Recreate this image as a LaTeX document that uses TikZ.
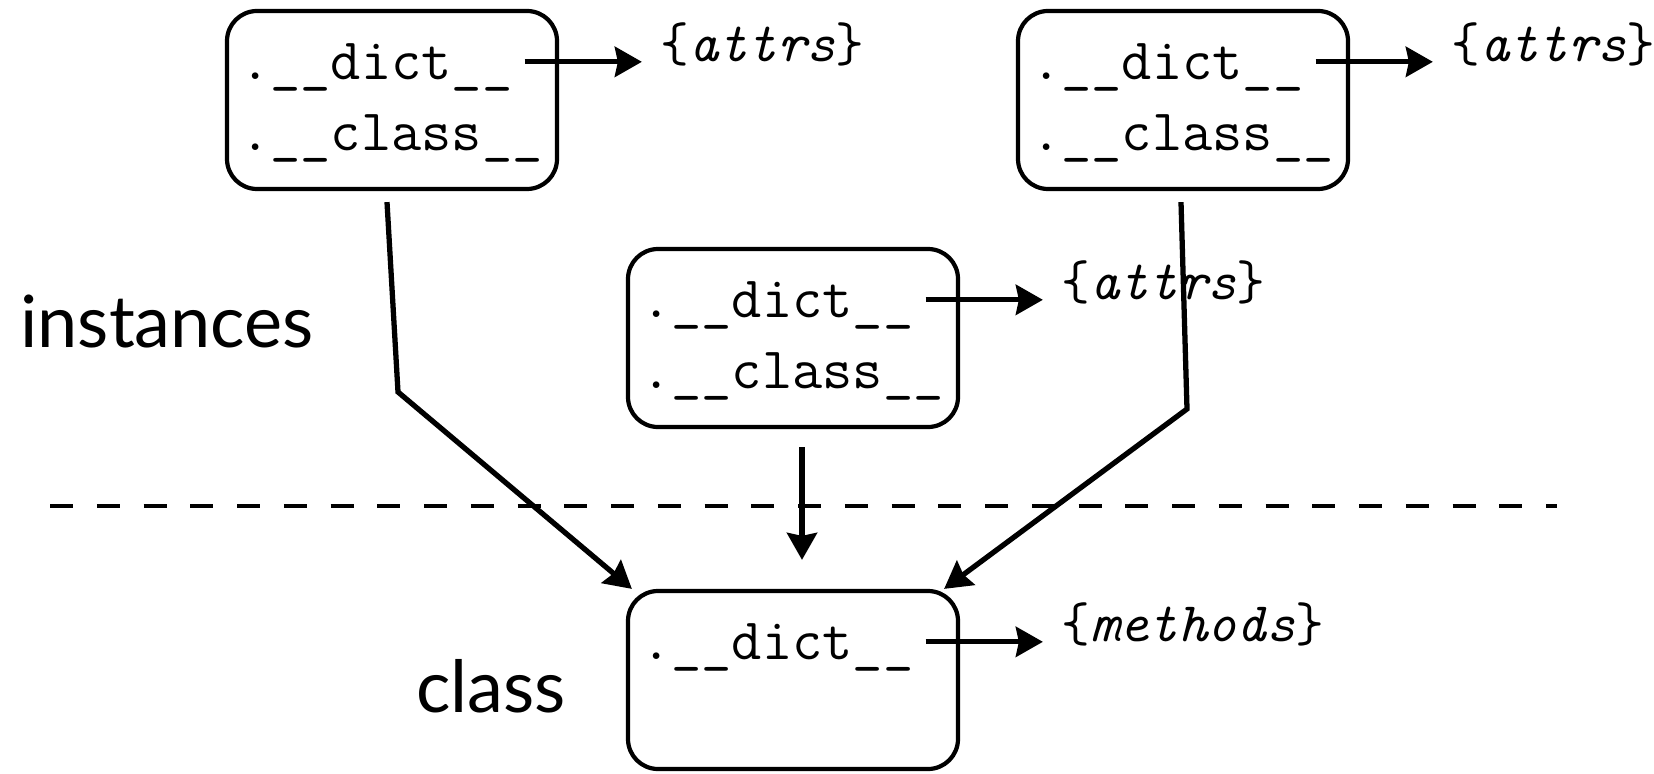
\documentclass[tikz,border=0pt]{standalone}
\usepackage{fontspec}
\newfontfamily\labelfont{Lato}
\usetikzlibrary{arrows.meta,calc,positioning}

\begin{document}
\begin{tikzpicture}[
            objbox/.style={
                draw=black,
                line width=2.4pt,
                rounded corners=0.6cm,
                minimum width=6.6cm,
                minimum height=3.56cm,
                inner sep=0pt
            },
            field/.style={
                inner sep=0pt,
                anchor=base west,
                font=\fontsize{33.4}{40}\selectfont\ttfamily
            },
            dictval/.style={
                field,
                font=\fontsize{31.8}{38}\selectfont\ttfamily
            },
            link/.style={
                line width=3pt,
                -{Stealth[length=0.54cm,width=0.6cm,inset=0.06cm]}
            },
            group/.style={
                inner sep=0pt,
                anchor=base west,
                font=\fontsize{41}{49}\selectfont\labelfont
            }
        ]

        \useasboundingbox (0,0) rectangle (33.08,15.46);

        % Objetos
        \node[objbox] (objA) at (7.84,13.46) {};
        \node[objbox] (objB) at (23.66,13.46) {};
        \node[objbox] (objC) at (15.86,8.70) {};
        \node[objbox] (cls)  at (15.86,1.86) {};

        % Campos
        \node[field]   (aDict)  at ([xshift=0.3cm,yshift=-1.42cm]objA.north west) {.\_\_dict\_\_};
        \node[field]   (aClass) at ([xshift=0.3cm,yshift=-2.84cm]objA.north west) {.\_\_class\_\_};
        \node[dictval] (aAttrs) at ([xshift=8.7cm,yshift=-1.06cm]objA.north west) {\{\textit{attrs}\}};

        \node[field]   (bDict)  at ([xshift=0.3cm,yshift=-1.42cm]objB.north west) {.\_\_dict\_\_};
        \node[field]   (bClass) at ([xshift=0.3cm,yshift=-2.84cm]objB.north west) {.\_\_class\_\_};
        \node[dictval] (bAttrs) at ([xshift=8.7cm,yshift=-1.06cm]objB.north west) {\{\textit{attrs}\}};

        \node[field]   (cDict)  at ([xshift=0.3cm,yshift=-1.42cm]objC.north west) {.\_\_dict\_\_};
        \node[field]   (cClass) at ([xshift=0.3cm,yshift=-2.84cm]objC.north west) {.\_\_class\_\_};
        \node[dictval] (cAttrs) at ([xshift=8.7cm,yshift=-1.06cm]objC.north west) {\{\textit{attrs}\}};

        \node[field]   (clsDict)    at ([xshift=0.3cm,yshift=-1.42cm]cls.north west) {.\_\_dict\_\_};
        \node[dictval] (clsMethods) at ([xshift=8.7cm,yshift=-1.06cm]cls.north west) {\{\textit{methods}\}};

        % Etiquetas
        \node[group] (instLabel) at (0.40,8.52) {instances};
        \node[group] (clsLabel)  at (8.32,1.22) {class};

        % Separador
        \coordinate (sepL) at (1.0,5.34);
        \coordinate (sepR) at (31.14,5.34);
        \draw[line width=2.2pt, dash pattern=on 0.46cm off 0.475cm] (sepL) -- (sepR);

        % Diccionarios
        \draw[link] ($(aDict.east)+(0.24,0.12)$) -- ($(aDict.east -| aAttrs.west)+(-0.36,0.12)$);
        \draw[link] ($(bDict.east)+(0.24,0.12)$) -- ($(bDict.east -| bAttrs.west)+(-0.36,0.12)$);
        \draw[link] ($(cDict.east)+(0.24,0.12)$) -- ($(cDict.east -| cAttrs.west)+(-0.36,0.12)$);
        \draw[link] ($(clsDict.east)+(0.24,0.12)$) -- ($(clsDict.east -| clsMethods.west)+(-0.36,0.12)$);

        % Enlaces a la clase
        \coordinate (bendA) at (7.96,7.62);
        \coordinate (bendB) at (23.74,7.28);
        \draw[link] ([xshift=-0.1cm,yshift=-0.22cm]objA.south) -- (bendA) -- ([xshift=0.12cm]cls.north west);
        \draw[link] ([xshift=-0.04cm,yshift=-0.22cm]objB.south) -- (bendB) -- ([xshift=-0.32cm]cls.north east);
        \draw[link] ([xshift=0.18cm,yshift=-0.36cm]objC.south) -- ([xshift=0.18cm,yshift=0.58cm]cls.north);

        \end{tikzpicture}
\end{document}
